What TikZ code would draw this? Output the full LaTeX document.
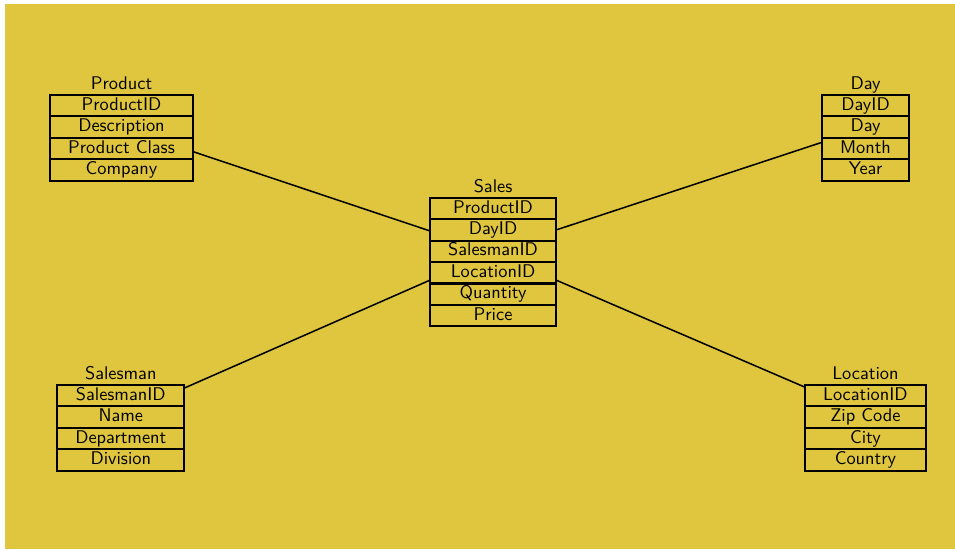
\documentclass[tikz,border=0pt]{standalone}
\usepackage{tikz}
\usetikzlibrary{positioning}
\definecolor{backyellow}{RGB}{224,198,63}

\tikzset{
  row/.style={draw, line width=1.2pt, inner sep=0pt, outer sep=0pt,
    minimum height=0.443cm, text height=7.6pt, text depth=2.2pt,
    font=\sffamily\fontsize{10.8pt}{13pt}\selectfont},
  tabtitle/.style={inner sep=0pt, outer sep=0pt, text depth=0pt,
    font=\sffamily\fontsize{10.8pt}{13pt}\selectfont},
  link/.style={line width=0.9pt}
}

\begin{document}
\begin{tikzpicture}
\useasboundingbox (0,0) rectangle (19.75,11.355);
\fill [backyellow] (0.103,0) rectangle (19.75,11.272);

% Product
\node [row, minimum width=2.958cm] (p1) at (2.513,9.168) {ProductID};
\node [row, minimum width=2.958cm, below=0pt of p1] (p2) {Description};
\node [row, minimum width=2.958cm, below=0pt of p2] (p3) {Product Class};
\node [row, minimum width=2.958cm, below=0pt of p3] (p4) {Company};
\node [tabtitle, above=3.4pt of p1] (pt) {Product};

% Day
\node [row, minimum width=1.799cm] (d1) at (17.90,9.168) {DayID};
\node [row, minimum width=1.799cm, below=0pt of d1] (d2) {Day};
\node [row, minimum width=1.799cm, below=0pt of d2] (d3) {Month};
\node [row, minimum width=1.799cm, below=0pt of d3] (d4) {Year};
\node [tabtitle, above=3.4pt of d1] (dt) {Day};

% Sales
\node [row, minimum width=2.606cm] (s1) at (10.197,7.042) {ProductID};
\node [row, minimum width=2.606cm, below=0pt of s1] (s2) {DayID};
\node [row, minimum width=2.606cm, below=0pt of s2] (s3) {SalesmanID};
\node [row, minimum width=2.606cm, below=0pt of s3] (s4) {LocationID};
\node [row, minimum width=2.606cm, below=0pt of s4] (s5) {Quantity};
\node [row, minimum width=2.606cm, below=0pt of s5] (s6) {Price};
\node [tabtitle, above=3.4pt of s1] (st) {Sales};

% Salesman
\node [row, minimum width=2.627cm] (m1) at (2.498,3.171) {SalesmanID};
\node [row, minimum width=2.627cm, below=0pt of m1] (m2) {Name};
\node [row, minimum width=2.627cm, below=0pt of m2] (m3) {Department};
\node [row, minimum width=2.627cm, below=0pt of m3] (m4) {Division};
\node [tabtitle, above=3.4pt of m1] (mt) {Salesman};

% Location
\node [row, minimum width=2.496cm] (l1) at (17.897,3.171) {LocationID};
\node [row, minimum width=2.496cm, below=0pt of l1] (l2) {Zip Code};
\node [row, minimum width=2.496cm, below=0pt of l2] (l3) {City};
\node [row, minimum width=2.496cm, below=0pt of l3] (l4) {Country};
\node [tabtitle, above=3.4pt of l1] (lt) {Location};

% links to the fact table
\draw [link] ([yshift=-1.8pt]p3.east) -- ([yshift=-0.6pt]s2.west);
\draw [link] ([yshift=3.7pt]d3.west) -- (s2.east);
\draw [link] ([yshift=4.5pt]m1.east) -- ([yshift=-4.3pt]s4.west);
\draw [link] ([yshift=5pt]l1.west) -- ([yshift=-4.3pt]s4.east);
\end{tikzpicture}
\end{document}
